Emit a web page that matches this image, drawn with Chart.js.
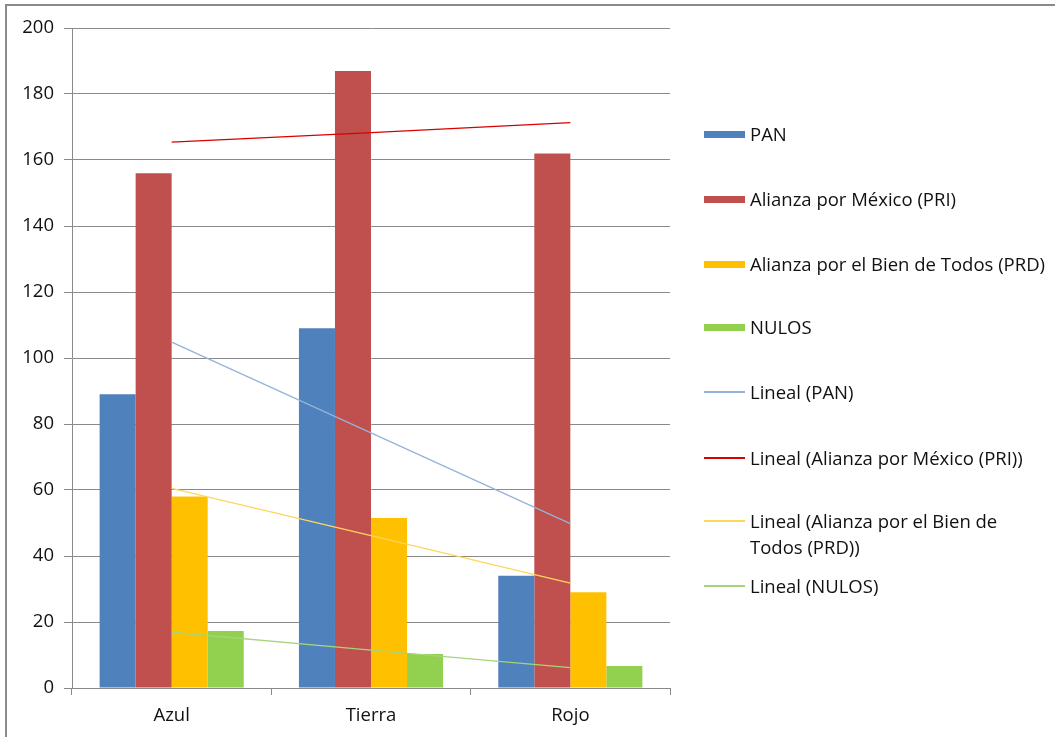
<!DOCTYPE html>
<html>
<head>
<meta charset="utf-8">
<script src="https://cdn.jsdelivr.net/npm/chart.js@4"></script>
<style>
  html, body { margin: 0; padding: 0; background: #fff; overflow: hidden; }
  #wrap { position: relative; width: 1055px; height: 737px; }
  #frame { position: absolute; left: 5px; top: 4px; width: 1050px; height: 740px; border: 2px solid #8a8a8a; box-sizing: border-box; border-right: none; border-bottom: none; }
  canvas { position: absolute; left: 0; top: 0; }
  #legend { position: absolute; left: 704px; top: 0; font-family: "Open Sans", sans-serif; font-size: 18.5px; color: #111; }
  .item { position: absolute; left: 0; white-space: nowrap; display: flex; align-items: flex-start; }
  .sw { width: 41px; margin-right: 5px; flex: none; }
  .txt { line-height: 26px; }
</style>
</head>
<body>
<div id="wrap">
  <div id="frame"></div>
  <canvas id="c" width="1055" height="737"></canvas>
  <div id="legend"></div>
</div>
<script>
const categories = ['Azul', 'Tierra', 'Rojo'];
const seriesNames = ['PAN', 'Alianza por México (PRI)', 'Alianza por el Bien de Todos (PRD)', 'NULOS'];
const pan = [89, 109, 34];
const pri = [156, 187, 162];
const prd = [58, 51.5, 29];
const nulos = [17.3, 10.3, 6.7];
// trend line values
const trendPan = [104.8, 77.3, 49.8];
const trendPri = [165.4, 168.3, 171.3];
const trendPrd = [60.5, 46.2, 31.8];
const trendNulos = [16.9, 11.5, 6.2];
const yTicks = [0, 20, 40, 60, 80, 100, 120, 140, 160, 180, 200];

const barColors = ['#4f81bd', '#c0504d', '#ffc000', '#92d050'];
const lineColors = ['#95b3d7', '#d90000', '#ffd65c', '#a6d47a'];

const barData = [pan, pri, prd, nulos];
const trendData = [trendPan, trendPri, trendPrd, trendNulos];

const datasets = [];
barData.forEach((d, i) => {
  datasets.push({
    type: 'bar', label: seriesNames[i], data: d,
    backgroundColor: barColors[i], order: 2,
    categoryPercentage: 0.723, barPercentage: 1
  });
});
trendData.forEach((d, i) => {
  datasets.push({
    type: 'line', label: 'Lineal (' + seriesNames[i] + ')', data: d,
    borderColor: lineColors[i], borderWidth: 1.3, pointRadius: 0,
    fill: false, tension: 0, order: 1
  });
});

const tickFont = { family: '"Open Sans", sans-serif', size: 18.5 };

new Chart(document.getElementById('c'), {
  type: 'bar',
  data: { labels: categories, datasets: datasets },
  options: {
    responsive: false,
    animation: false,
    layout: { padding: { left: 0, right: 385, top: 28, bottom: 0 } },
    plugins: { legend: { display: false }, tooltip: { enabled: false } },
    scales: {
      x: {
        grid: { drawOnChartArea: false, offset: true, tickLength: 7, color: '#8a8a8a' },
        border: { color: '#8a8a8a', width: 1 },
        ticks: { font: tickFont, color: '#111', padding: 10 },
        afterFit(axis) { axis.height = 49; }
      },
      y: {
        min: 0, max: 200,
        afterBuildTicks(axis) { axis.ticks = yTicks.map(v => ({ value: v })); },
        grid: { color: '#8a8a8a', tickLength: 8 },
        border: { color: '#8a8a8a', width: 1 },
        ticks: { font: tickFont, color: '#111', padding: 10 },
        afterFit(axis) { axis.width = 72; }
      }
    }
  }
});

// legend
const legendTops = [134, 199, 264, 327, 392, 458, 521, 586];
const legend = document.getElementById('legend');
datasets.forEach((ds, i) => {
  const it = document.createElement('div');
  it.className = 'item';
  it.style.top = (legendTops[i] - 13) + 'px';
  const sw = document.createElement('div');
  sw.className = 'sw';
  const isBar = ds.type === 'bar';
  sw.style.height = isBar ? '7px' : '2px';
  sw.style.marginTop = isBar ? '10px' : '12px';
  sw.style.background = isBar ? ds.backgroundColor : ds.borderColor;
  const tx = document.createElement('div');
  tx.className = 'txt';
  if (ds.label === 'Lineal (Alianza por el Bien de Todos (PRD))') {
    tx.innerHTML = 'Lineal (Alianza por el Bien de<br>Todos (PRD))';
  } else {
    tx.textContent = ds.label;
  }
  it.appendChild(sw);
  it.appendChild(tx);
  legend.appendChild(it);
});
</script>
</body>
</html>
